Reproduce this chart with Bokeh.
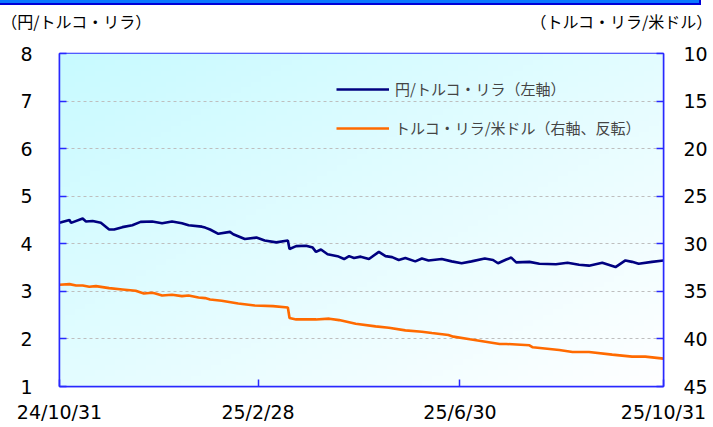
import numpy as np
import pandas as pd
from bokeh.plotting import figure
from bokeh.layouts import column
from bokeh.models import (Range1d, LinearAxis, DatetimeAxis, FixedTicker, Legend,
                          LegendItem, Div)
from bokeh.embed import file_html
from bokeh.resources import INLINE

# ---- data ----
jpy_try_dates = [
    "2024-10-31", "2024-11-06", "2024-11-07", "2024-11-14", "2024-11-16", "2024-11-20",
    "2024-11-25", "2024-11-30", "2024-12-03", "2024-12-08", "2024-12-14", "2024-12-19",
    "2024-12-26", "2025-01-01", "2025-01-07", "2025-01-13", "2025-01-17", "2025-01-25",
    "2025-01-27", "2025-01-30", "2025-02-04", "2025-02-11", "2025-02-13", "2025-02-20",
    "2025-02-27", "2025-03-04", "2025-03-11", "2025-03-18", "2025-03-19", "2025-03-23",
    "2025-03-29", "2025-04-02", "2025-04-04", "2025-04-07", "2025-04-11", "2025-04-17",
    "2025-04-21", "2025-04-24", "2025-04-27", "2025-05-01", "2025-05-06", "2025-05-12",
    "2025-05-16", "2025-05-20", "2025-05-24", "2025-05-28", "2025-06-03", "2025-06-07",
    "2025-06-11", "2025-06-19", "2025-06-25", "2025-07-01", "2025-07-07", "2025-07-15",
    "2025-07-20", "2025-07-23", "2025-07-28", "2025-07-31", "2025-08-03", "2025-08-11",
    "2025-08-17", "2025-08-27", "2025-09-03", "2025-09-10", "2025-09-16", "2025-09-24",
    "2025-10-02", "2025-10-08", "2025-10-12", "2025-10-16", "2025-10-24", "2025-10-31",
]
jpy_try_values = [
    4.44, 4.50, 4.44, 4.53, 4.47, 4.48,
    4.44, 4.30, 4.30, 4.35, 4.39, 4.46,
    4.47, 4.43, 4.47, 4.43, 4.39, 4.36,
    4.34, 4.30, 4.21, 4.25, 4.20, 4.10,
    4.13, 4.07, 4.03, 4.07, 3.89, 3.95,
    3.96, 3.92, 3.83, 3.88, 3.78, 3.74,
    3.68, 3.74, 3.70, 3.73, 3.68, 3.83,
    3.74, 3.72, 3.66, 3.70, 3.63, 3.69,
    3.65, 3.68, 3.63, 3.59, 3.63, 3.69,
    3.66, 3.59, 3.67, 3.71, 3.61, 3.62,
    3.58, 3.57, 3.60, 3.56, 3.54, 3.60,
    3.51, 3.65, 3.62, 3.58, 3.62, 3.65,
]

try_usd_dates = [
    "2024-10-31", "2024-11-06", "2024-11-10", "2024-11-14", "2024-11-18", "2024-11-22",
    "2024-11-30", "2024-12-08", "2024-12-16", "2024-12-21", "2024-12-26", "2024-12-28",
    "2025-01-01", "2025-01-07", "2025-01-13", "2025-01-17", "2025-01-23", "2025-01-27",
    "2025-01-30", "2025-02-06", "2025-02-16", "2025-02-26", "2025-03-09", "2025-03-18",
    "2025-03-19", "2025-03-23", "2025-04-04", "2025-04-12", "2025-04-18", "2025-04-28",
    "2025-05-10", "2025-05-18", "2025-05-28", "2025-06-07", "2025-06-13", "2025-06-23",
    "2025-06-26", "2025-07-06", "2025-07-24", "2025-07-28", "2025-08-11", "2025-08-13",
    "2025-08-29", "2025-09-06", "2025-09-16", "2025-09-30", "2025-10-12", "2025-10-20",
    "2025-10-31",
]
try_usd_values = [
    34.31, 34.24, 34.38, 34.38, 34.52, 34.45,
    34.66, 34.80, 34.94, 35.22, 35.15, 35.22,
    35.43, 35.36, 35.50, 35.43, 35.64, 35.71,
    35.85, 35.99, 36.27, 36.48, 36.55, 36.69,
    37.80, 37.95, 37.95, 37.87, 38.02, 38.40,
    38.68, 38.82, 39.10, 39.24, 39.38, 39.59,
    39.76, 40.04, 40.53, 40.53, 40.67, 40.88,
    41.16, 41.37, 41.37, 41.65, 41.86, 41.86,
    42.07,
]

x_tick_dates = ["2024-10-31", "2025-02-28", "2025-06-30", "2025-10-31"]
x_tick_labels = ["24/10/31", "25/2/28", "25/6/30", "25/10/31"]
left_ticks = [1, 2, 3, 4, 5, 6, 7, 8]
right_ticks = [10, 15, 20, 25, 30, 35, 40, 45]

captions = ["（円/トルコ・リラ）", "（トルコ・リラ/米ドル）"]
caption_frac = [0.0281, 0.9305]   # horizontal centre of each caption, as fraction of the frame
legend_labels = ["円/トルコ・リラ（左軸）", "トルコ・リラ/米ドル（右軸、反転）"]


def to_ms(ds):
    return [pd.Timestamp(d).value / 1e6 for d in ds]


tick_ms = to_ms(x_tick_dates)
x0, x1 = tick_ms[0], tick_ms[-1]

AX = "#2828FF"
NUM_FONT = "DejaVu Sans"
JP_FONT = "Noto Sans CJK JP"
W = 713
BAR_H = 5

# cut-off title bar at the very top of the picture
bar = Div(text=('<div style="display:block;position:absolute;left:0;top:0;'
                'width:699px;height:3px;background:#0A78FF;'
                'border-bottom:2px solid #0000D8;border-right:2px solid #0000D8;'
                'box-sizing:content-box;"></div>'),
          width=W, height=BAR_H, margin=(0, 0, 0, 0))

# ---- main chart ----
p = figure(width=W, height=427 - BAR_H, x_axis_type="datetime",
           x_range=Range1d(x0, x1), y_range=Range1d(left_ticks[0], left_ticks[-1]),
           output_backend="svg", toolbar_location=None,
           min_border_left=59, min_border_right=50, min_border_top=52 - BAR_H,
           min_border_bottom=41)
p.extra_y_ranges = {"right": Range1d(right_ticks[-1], right_ticks[0])}
p.background_fill_color = "white"
p.border_fill_color = "white"
p.outline_line_color = AX
p.outline_line_width = 1.5

# gradient background (cyan top-left -> white bottom-right)
ny, nx = 60, 120
u = np.linspace(0, 1, nx)[None, :]
v = np.linspace(0, 1, ny)[:, None]
t = np.clip((u + (1 - v)) / 2.0, 0, 1)
c0 = np.array([200, 250, 255])
c1 = np.array([255, 255, 255])
img = np.empty((ny, nx), dtype=np.uint32)
view = img.view(dtype=np.uint8).reshape((ny, nx, 4))
for k in range(3):
    view[:, :, k] = (c0[k] + (c1[k] - c0[k]) * t).astype(np.uint8)
view[:, :, 3] = 255
p.image_rgba(image=[img], x=x0, y=left_ticks[0], dw=x1 - x0,
             dh=left_ticks[-1] - left_ticks[0], level="image")

# axes
p.xaxis.ticker = FixedTicker(ticks=tick_ms)
p.xaxis.major_label_overrides = {ms: lab for ms, lab in zip(tick_ms, x_tick_labels)}
p.yaxis.ticker = FixedTicker(ticks=left_ticks)
p.ygrid.ticker = FixedTicker(ticks=left_ticks)
p.xgrid.visible = False
p.ygrid.grid_line_color = "#BEBEBE"
p.ygrid.grid_line_dash = "3 3"
p.ygrid.grid_line_width = 1

raxis = LinearAxis(y_range_name="right", ticker=FixedTicker(ticks=right_ticks))
p.add_layout(raxis, "right")

for ax in [p.xaxis[0], p.yaxis[0], raxis]:
    ax.axis_line_color = AX
    ax.axis_line_width = 1.5
    ax.major_tick_line_color = AX
    ax.major_tick_line_width = 1.5
    ax.major_tick_in = 7
    ax.major_tick_out = 0
    ax.minor_tick_line_color = None
    ax.major_label_text_font = NUM_FONT
    ax.major_label_text_font_size = "19px"
    ax.major_label_text_color = "black"

p.yaxis[0].major_label_standoff = 27
raxis.major_label_standoff = 20
p.xaxis[0].major_label_standoff = 14

# unit captions above the frame, as labels of an otherwise invisible top axis
cap_ms = [x0 + f * (x1 - x0) for f in caption_frac]
taxis = DatetimeAxis(ticker=FixedTicker(ticks=cap_ms),
                     major_label_overrides={ms: c for ms, c in zip(cap_ms, captions)},
                     axis_line_color=None, major_tick_line_color=None,
                     minor_tick_line_color=None, major_tick_in=0, major_tick_out=0,
                     major_label_text_font=JP_FONT, major_label_text_font_size="16px",
                     major_label_text_color="black", major_label_standoff=21)
p.add_layout(taxis, "above")

r1 = p.line(x=pd.to_datetime(jpy_try_dates), y=jpy_try_values, line_color="#000080", line_width=2.6)
r2 = p.line(x=pd.to_datetime(try_usd_dates), y=try_usd_values, line_color="#FF6A00", line_width=2.6,
            y_range_name="right")

legend = Legend(items=[LegendItem(label=legend_labels[0], renderers=[r1]),
                       LegendItem(label=legend_labels[1], renderers=[r2])],
                location=(277, 248), orientation="vertical",
                background_fill_alpha=0, border_line_alpha=0,
                padding=0, margin=0, spacing=18,
                glyph_width=53, glyph_height=20, label_height=20, label_standoff=6,
                label_text_font=JP_FONT, label_text_font_size="15px")
p.add_layout(legend)

layout = column(bar, p, spacing=0)
open("out.html", "w").write(file_html(layout, INLINE))
